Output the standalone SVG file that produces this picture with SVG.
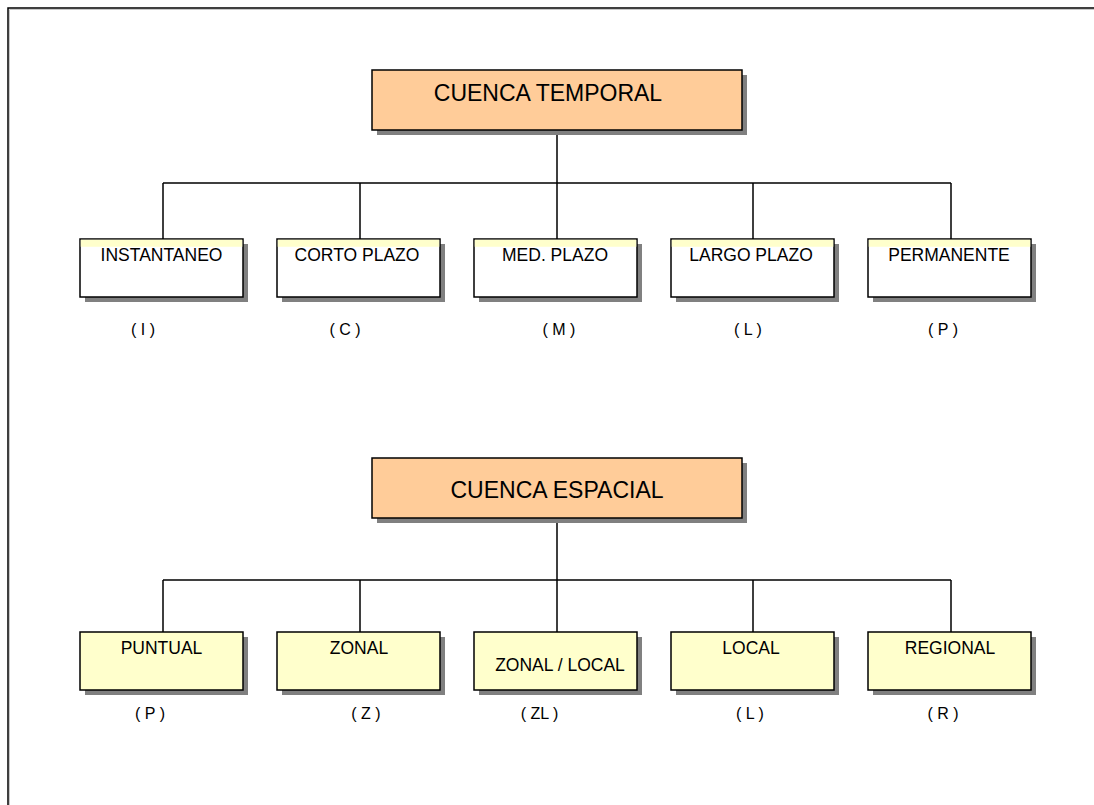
<svg xmlns="http://www.w3.org/2000/svg" width="1094" height="805" viewBox="0 0 1094 805">
<style>
text{font-family:"Liberation Sans",Arial,sans-serif;fill:#000;text-anchor:middle}
.shadow{fill:#808080}
.main{fill:#FFCC99;stroke:#000;stroke-width:1.5}
.white{fill:#fff;stroke:#000;stroke-width:1.5}
.yel{fill:#FFFFCC;stroke:#000;stroke-width:1.5}
.strip{fill:#FFFFCC}
.t1{font-size:23px}
.t2{font-size:17.5px}
.t3{font-size:16px}
.conn{fill:none;stroke:#000;stroke-width:1.5}
</style>
<rect width="1094" height="805" fill="#fff"/>
<path d="M9.5,805 V9.5 H1094" fill="none" stroke="#c8c8c8" stroke-width="1"/>
<path d="M8,805 V8 H1094" fill="none" stroke="#000" stroke-width="1.5"/>

<g id="connectors">
<path class="conn" d="M557,130 V183 M163,183 H951 M163,183 V239 M360,183 V239 M557,183 V239 M753,183 V239 M951,183 V239"/>
<path class="conn" d="M557,518 V580 M163,580 H951 M163,580 V632 M360,580 V632 M557,580 V632 M753,580 V632 M951,580 V632"/>
</g>

<g id="cuenca-temporal">
<rect class="shadow" x="377" y="75" width="370" height="60"/>
<rect class="main" x="372" y="70" width="370" height="60"/>
<text class="t1" x="548" y="101">CUENCA TEMPORAL</text>
</g>

<g id="instantaneo">
<rect class="shadow" x="85" y="244" width="163" height="58"/>
<rect class="white" x="80" y="239" width="163" height="58"/>
<rect class="strip" x="80.75" y="239.75" width="161.5" height="7"/>
<text class="t2" x="161.5" y="261">INSTANTANEO</text>
<text class="t3" x="143" y="335">( I )</text>
</g>
<g id="corto-plazo">
<rect class="shadow" x="282" y="244" width="163" height="58"/>
<rect class="white" x="277" y="239" width="163" height="58"/>
<rect class="strip" x="277.75" y="239.75" width="161.5" height="7"/>
<text class="t2" x="357" y="261">CORTO PLAZO</text>
<text class="t3" x="345" y="335">( C )</text>
</g>
<g id="med-plazo">
<rect class="shadow" x="479" y="244" width="163" height="58"/>
<rect class="white" x="474" y="239" width="163" height="58"/>
<rect class="strip" x="474.75" y="239.75" width="161.5" height="7"/>
<text class="t2" x="555" y="261">MED. PLAZO</text>
<text class="t3" x="559" y="335">( M )</text>
</g>
<g id="largo-plazo">
<rect class="shadow" x="676" y="244" width="163" height="58"/>
<rect class="white" x="671" y="239" width="163" height="58"/>
<rect class="strip" x="671.75" y="239.75" width="161.5" height="7"/>
<text class="t2" x="751" y="261">LARGO PLAZO</text>
<text class="t3" x="748" y="335">( L )</text>
</g>
<g id="permanente">
<rect class="shadow" x="873" y="244" width="163" height="58"/>
<rect class="white" x="868" y="239" width="163" height="58"/>
<rect class="strip" x="868.75" y="239.75" width="161.5" height="7"/>
<text class="t2" x="949" y="261">PERMANENTE</text>
<text class="t3" x="943" y="335">( P )</text>
</g>

<g id="cuenca-espacial">
<rect class="shadow" x="377" y="463" width="370" height="60"/>
<rect class="main" x="372" y="458" width="370" height="60"/>
<text class="t1" x="557" y="498">CUENCA ESPACIAL</text>
</g>

<g id="puntual">
<rect class="shadow" x="85" y="637" width="163" height="58"/>
<rect class="yel" x="80" y="632" width="163" height="58"/>
<text class="t2" x="161.5" y="654">PUNTUAL</text>
<text class="t3" x="150" y="719">( P )</text>
</g>
<g id="zonal">
<rect class="shadow" x="282" y="637" width="163" height="58"/>
<rect class="yel" x="277" y="632" width="163" height="58"/>
<text class="t2" x="359" y="654">ZONAL</text>
<text class="t3" x="366" y="719">( Z )</text>
</g>
<g id="zonal-local">
<rect class="shadow" x="479" y="637" width="163" height="58"/>
<rect class="yel" x="474" y="632" width="163" height="58"/>
<text class="t2" x="560" y="671">ZONAL / LOCAL</text>
<text class="t3" x="539.5" y="719">( ZL )</text>
</g>
<g id="local">
<rect class="shadow" x="676" y="637" width="163" height="58"/>
<rect class="yel" x="671" y="632" width="163" height="58"/>
<text class="t2" x="751" y="654">LOCAL</text>
<text class="t3" x="750" y="719">( L )</text>
</g>
<g id="regional">
<rect class="shadow" x="873" y="637" width="163" height="58"/>
<rect class="yel" x="868" y="632" width="163" height="58"/>
<text class="t2" x="950" y="654">REGIONAL</text>
<text class="t3" x="943" y="719">( R )</text>
</g>
</svg>
